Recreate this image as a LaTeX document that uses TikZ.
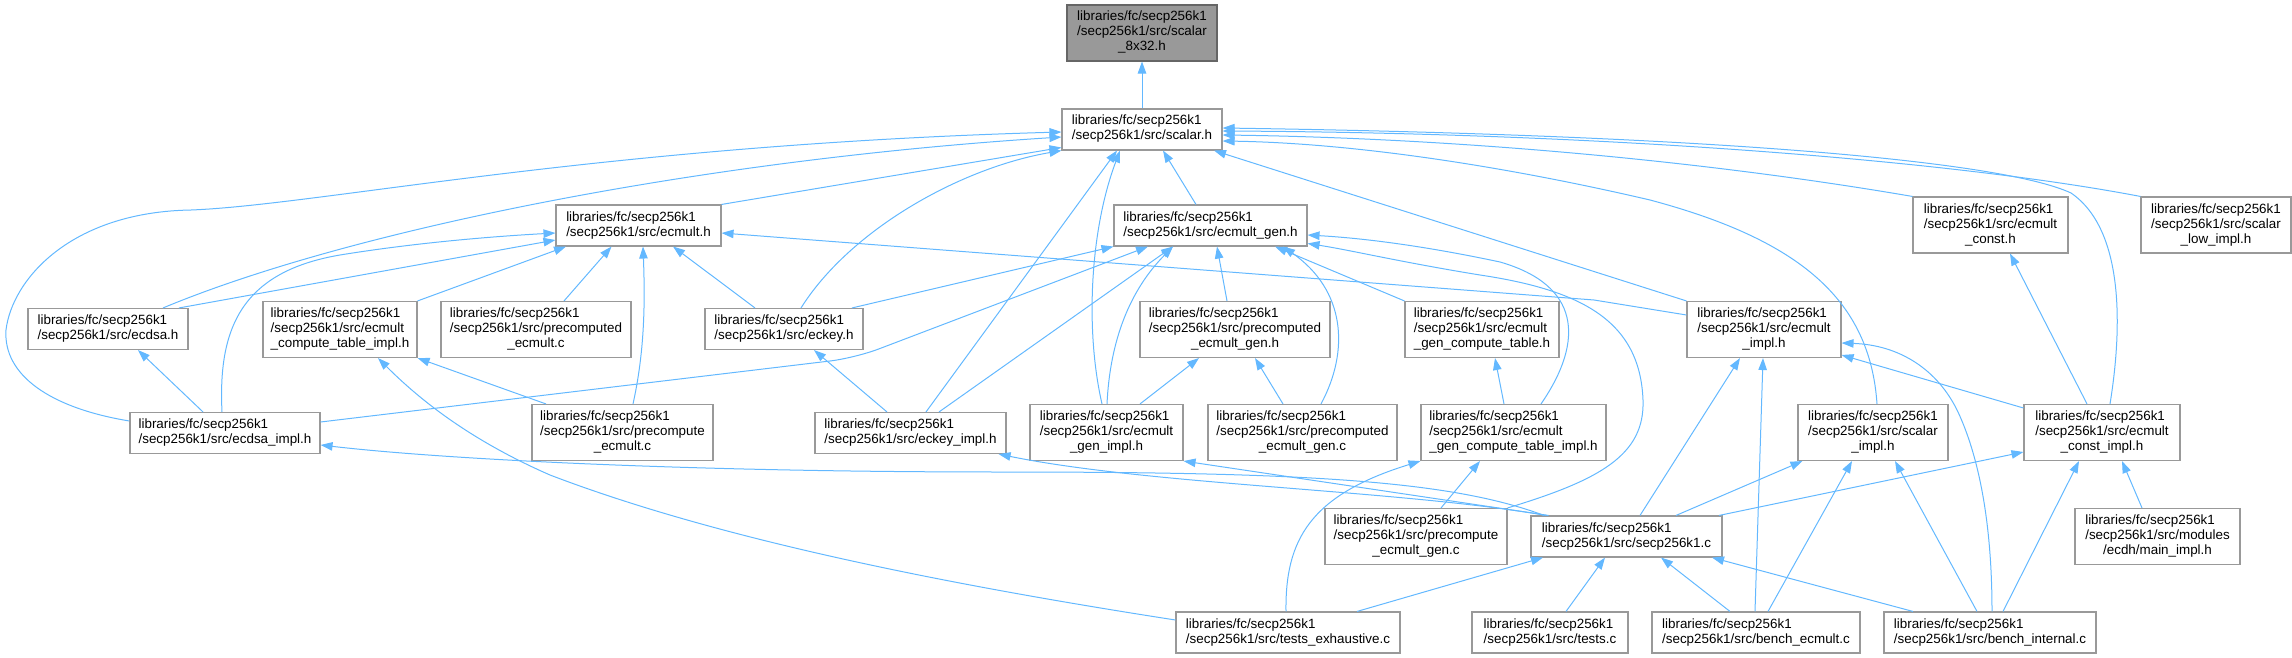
\documentclass[tikz,border=0pt]{standalone}
\usepackage{fontspec}
\setmainfont{Liberation Sans}
\usetikzlibrary{arrows.meta}
\definecolor{edgeblue}{HTML}{63B8FF}
\definecolor{boxgray}{HTML}{999999}
\definecolor{rootgray}{HTML}{666666}
\newcommand{\twoln}[1]{\begin{tabular}{@{}l@{}}libraries/fc/secp256k1\\/secp256k1/src/#1\end{tabular}}
\newcommand{\threeln}[2]{\begin{tabular}{@{}l@{}}libraries/fc/secp256k1\\/secp256k1/src/#1\\\multicolumn{1}{@{}c@{}}{#2}\end{tabular}}

\begin{document}
\begin{tikzpicture}[x=1pt,y=-1pt,>={Triangle[length=12pt,width=8.5pt]}]
\tikzset{
  fil/.style={draw=boxgray, line width=1.1pt, fill=white, inner sep=0pt, minimum height=41, font=\fontsize{13.4}{15}\selectfont},
  tall/.style={minimum height=56},
  rootf/.style={fil, tall, fill=boxgray, draw=rootgray},
  inc/.style={->, edgeblue, line width=1pt}
}
\useasboundingbox (0,0) rectangle (2292,658);
% ---------- rows 1-3 ----------
\node[rootf, minimum width=150] (s8x32) at (1142,33) {\threeln{scalar}{\_8x32.h}};
\node[fil, minimum width=160] (scalar) at (1142,129.5) {\twoln{scalar.h}};
\node[fil, minimum width=165] (ecmult) at (638.5,225.5) {\twoln{ecmult.h}};
\node[fil, minimum width=193] (ecmultgen) at (1210.5,225.5) {\twoln{ecmult\_gen.h}};
\node[fil, tall, minimum width=155] (ecmultconst) at (1990.5,225) {\threeln{ecmult}{\_const.h}};
\node[fil, tall, minimum width=150] (scalarlow) at (2216,225) {\threeln{scalar}{\_low\_impl.h}};
% ---------- row 4 ----------
\node[fil, minimum width=160] (ecdsa) at (108,329) {\twoln{ecdsa.h}};
\node[fil, tall, minimum width=154] (ectableimpl) at (340,329.5) {\threeln{ecmult}{\_compute\_table\_impl.h}};
\node[fil, tall, minimum width=190] (precompc) at (536,329.5) {\threeln{precomputed}{\_ecmult.c}};
\node[fil, minimum width=158] (eckey) at (784,329) {\twoln{eckey.h}};
\node[fil, tall, minimum width=190] (precompgenh) at (1235,329.5) {\threeln{precomputed}{\_ecmult\_gen.h}};
\node[fil, tall, minimum width=154] (gentable) at (1482,329.5) {\threeln{ecmult}{\_gen\_compute\_table.h}};
\node[fil, tall, minimum width=154] (ecmultimpl) at (1764,329.5) {\threeln{ecmult}{\_impl.h}};
% ---------- row 5 ----------
\node[fil, minimum width=190] (ecdsaimpl) at (225,433) {\twoln{ecdsa\_impl.h}};
\node[fil, tall, minimum width=181] (precompute) at (622.5,432.5) {\threeln{precompute}{\_ecmult.c}};
\node[fil, minimum width=191] (eckeyimpl) at (910.5,433) {\twoln{eckey\_impl.h}};
\node[fil, tall, minimum width=153] (genimpl) at (1106.5,432.5) {\threeln{ecmult}{\_gen\_impl.h}};
\node[fil, tall, minimum width=189] (precompgenc) at (1302.5,432.5) {\threeln{precomputed}{\_ecmult\_gen.c}};
\node[fil, tall, minimum width=185] (gentableimpl) at (1513.5,432.5) {\threeln{ecmult}{\_gen\_compute\_table\_impl.h}};
\node[fil, tall, minimum width=150] (scalarimpl) at (1873,432.5) {\threeln{scalar}{\_impl.h}};
\node[fil, tall, minimum width=156] (constimpl) at (2102,432.5) {\threeln{ecmult}{\_const\_impl.h}};
% ---------- rows 6-7 ----------
\node[fil, tall, minimum width=182] (precomputegen) at (1416,536.5) {\threeln{precompute}{\_ecmult\_gen.c}};
\node[fil, minimum width=191] (secp) at (1626.5,536.5) {\twoln{secp256k1.c}};
\node[fil, tall, minimum width=165] (mainimpl) at (2157.5,536.5) {\threeln{modules}{/ecdh/main\_impl.h}};
\node[fil, minimum width=224] (testsexh) at (1288,632.5) {\twoln{tests\_exhaustive.c}};
\node[fil, minimum width=156] (tests) at (1550,632.5) {\twoln{tests.c}};
\node[fil, minimum width=208] (benchecmult) at (1756,632.5) {\twoln{bench\_ecmult.c}};
\node[fil, minimum width=212] (benchinternal) at (1990,632.5) {\twoln{bench\_internal.c}};
% ---------- into scalar.h ----------
\draw[inc] (scalar.north) -- (s8x32.south);
\draw[inc] ([yshift=12]ecdsaimpl.west) .. controls (50,408) and (3,375) .. (6,330) .. controls (12,280) and (70,212) .. (191,210) .. controls (320,205) and (600,145) .. ([yshift=-2.5]scalar.west);
\draw[inc] ([xshift=55]ecdsa.north) .. controls (350,230) and (700,160) .. ([yshift=-7.5]scalar.west);
\draw[inc] (ecmult.north east) -- ([yshift=-18]scalar.west);
\draw[inc] ([xshift=17]eckey.north) .. controls (850,230) and (960,168) .. (scalar.south west);
\draw[inc] ([xshift=15.5]eckeyimpl.north) -- ([xshift=-25]scalar.south);
\draw[inc] ([xshift=-4.5]genimpl.north) .. controls (1085,330) and (1090,230) .. ([xshift=-22]scalar.south);
\draw[inc] ([xshift=-14.5]ecmultgen.north) -- ([xshift=21]scalar.south);
\draw[inc] (ecmultimpl.north west) -- ([xshift=72]scalar.south);
\draw[inc] (ecmultconst.north west) .. controls (1700,160) and (1450,138) .. ([yshift=-5.5]scalar.east);
\draw[inc] (scalarlow.north west) .. controls (1950,160) and (1600,133) .. ([yshift=-1.5]scalar.east);
\draw[inc] ([xshift=8]constimpl.north) .. controls (2122,330) and (2125,230) .. (2071,193) .. controls (2000,160) and (1700,135) .. ([yshift=1.5]scalar.east);
\draw[inc] ([xshift=4]scalarimpl.north) .. controls (1870,300) and (1800,240) .. (1650,200) .. controls (1500,165) and (1350,143) .. ([yshift=-11.5]scalar.east);
% ---------- into ecmult.h ----------
\draw[inc] ([xshift=-3]ecdsaimpl.north) .. controls (218,330) and (240,272) .. (340,255) .. controls (420,242) and (500,236) .. ([yshift=-7.5]ecmult.west);
\draw[inc] ([xshift=71]ecdsa.north) -- ([yshift=-14.5]ecmult.west);
\draw[inc] (ectableimpl.north east) -- ([xshift=-72.5]ecmult.south);
\draw[inc] ([xshift=28]precompc.north) -- ([xshift=-27]ecmult.south);
\draw[inc] ([xshift=10.5]precompute.north) .. controls (645,350) and (645,300) .. ([xshift=4.5]ecmult.south);
\draw[inc] ([xshift=-29]eckey.north) -- ([xshift=34.5]ecmult.south);
\draw[inc] ([yshift=14.5]ecmultimpl.west) -- (1594,300) -- ([yshift=-7.5]ecmult.east);
% ---------- into ecmult_gen.h ----------
\draw[inc] ([xshift=68]eckey.north) -- (ecmultgen.south west);
\draw[inc, rounded corners=25] ([yshift=11]ecdsaimpl.east) -- (855,358) -- ([xshift=-62.5]ecmultgen.south);
\draw[inc] ([xshift=28.5]eckeyimpl.north) -- ([xshift=-37.5]ecmultgen.south);
\draw[inc] ([xshift=0.5]genimpl.north) .. controls (1110,340) and (1130,290) .. ([xshift=-37.5]ecmultgen.south);
\draw[inc] ([xshift=-8]precompgenh.north) -- ([xshift=6.5]ecmultgen.south);
\draw[inc] (gentable.north west) -- ([xshift=64.5]ecmultgen.south);
\draw[inc] ([xshift=18.5]precompgenc.north) .. controls (1350,350) and (1345,290) .. ([xshift=72.5]ecmultgen.south);
\draw[inc] ([xshift=27.5]gentableimpl.north) .. controls (1585,340) and (1580,285) .. (1500,262) .. controls (1420,245) and (1360,238) .. ([yshift=-9.5]ecmultgen.east);
\draw[inc] (precomputegen.north east) .. controls (1600,480) and (1645,455) .. (1643,400) .. controls (1640,320) and (1580,290) .. (1480,275) .. controls (1400,262) and (1350,250) .. ([yshift=-18]ecmultgen.east);
% ---------- row 4 targets ----------
\draw[inc] ([xshift=33.5]genimpl.north) -- ([xshift=-36]precompgenh.south);
\draw[inc] ([xshift=-19.5]precompgenc.north) -- ([xshift=20]precompgenh.south);
\draw[inc] ([xshift=-9.5]gentableimpl.north) -- ([xshift=13]gentable.south);
\draw[inc] ([yshift=12.5]testsexh.west) .. controls (950,585) and (720,540) .. (550,475) .. controls (470,440) and (420,400) .. ([xshift=38]ectableimpl.south);
\draw[inc] ([xshift=-76.5]precompute.north) -- (ectableimpl.south east);
\draw[inc] ([xshift=-22]ecdsaimpl.north) -- ([xshift=30]ecdsa.south);
\draw[inc] ([xshift=-23.5]eckeyimpl.north) -- ([xshift=30]eckey.south);
\draw[inc] ([xshift=13.5]secp.north) -- ([xshift=-24]ecmultimpl.south);
\draw[inc] ([xshift=-1]benchecmult.north) -- ([xshift=-1]ecmultimpl.south);
\draw[inc] ([xshift=2]benchinternal.north) .. controls (1992,520) and (1978,455) .. (1958,412) .. controls (1938,370) and (1900,345) .. ([yshift=-13.5]ecmultimpl.east);
\draw[inc] ([yshift=24.5]constimpl.west) -- ([yshift=-25.5]ecmultimpl.east);
\draw[inc] ([xshift=-15]constimpl.north) -- ([xshift=19.5]ecmultconst.south);
% ---------- from secp256k1.c ----------
\draw[inc] ([xshift=-82.5]secp.north) .. controls (1450,480) and (1300,472) .. (1000,472) .. controls (700,472) and (450,460) .. ([yshift=-12]ecdsaimpl.east);
\draw[inc] ([xshift=-80]secp.north) .. controls (1400,490) and (1150,485) .. ([xshift=-8]eckeyimpl.south east);
\draw[inc] ([xshift=-78]secp.north) -- (genimpl.south east);
\draw[inc] ([xshift=49.5]secp.north) -- ([xshift=5]scalarimpl.south west);
\draw[inc] ([xshift=92.5]secp.north) -- ([yshift=-19.5]constimpl.west);
% ---------- row 5 targets from below ----------
\draw[inc] ([xshift=12]benchecmult.north) -- ([xshift=-21]scalarimpl.south);
\draw[inc] ([xshift=-13]benchinternal.north) -- ([xshift=22]scalarimpl.south);
\draw[inc] ([xshift=13]benchinternal.north) -- ([xshift=-23]constimpl.south);
\draw[inc] ([xshift=-15.5]mainimpl.north) -- ([xshift=20]constimpl.south);
\draw[inc] ([xshift=-2]testsexh.north) .. controls (1285,540) and (1310,495) .. (gentableimpl.south west);
\draw[inc] ([xshift=25]precomputegen.north) -- ([xshift=-33.5]gentableimpl.south);
% ---------- into secp256k1.c ----------
\draw[inc] ([xshift=69]testsexh.north) -- ([xshift=-83.5]secp.south);
\draw[inc] ([xshift=16]tests.north) -- ([xshift=-21.5]secp.south);
\draw[inc] ([xshift=-26]benchecmult.north) -- ([xshift=34.5]secp.south);
\draw[inc] ([xshift=-77]benchinternal.north) -- ([xshift=85.5]secp.south);
\end{tikzpicture}
\end{document}
